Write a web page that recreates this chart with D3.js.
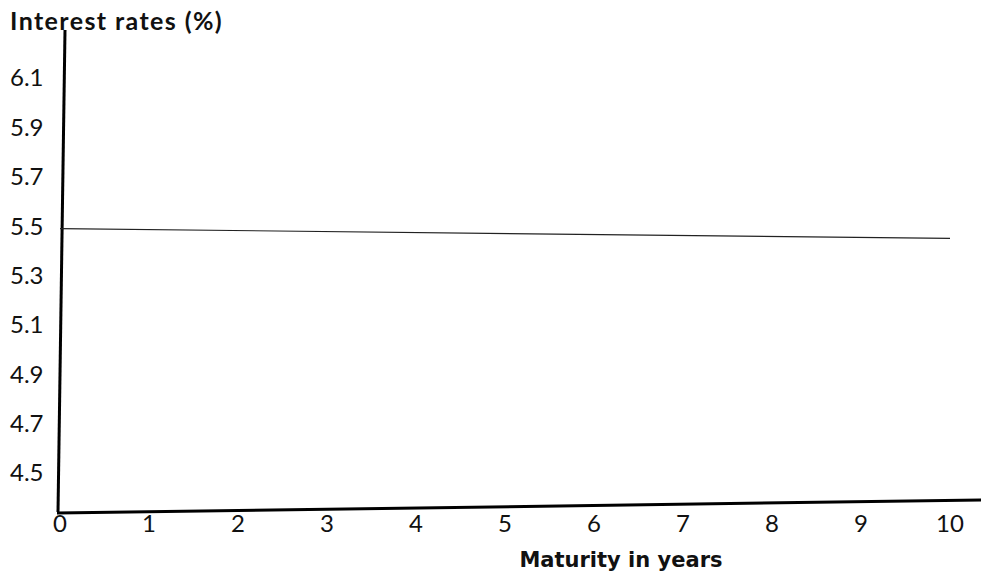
<!DOCTYPE html>
<html>
<head>
<meta charset="utf-8">
<script src="https://cdn.jsdelivr.net/npm/d3@7"></script>
<style>
  html, body { margin: 0; padding: 0; background: #fff; }
  svg { display: block; }
  text { font-family: Lato, "Open Sans", sans-serif; fill: #111; }
</style>
</head>
<body>
<svg id="chart" width="998" height="578"></svg>
<script>
// ---- data ----
const maturities = [0, 10];
const rates = [5.49, 5.45];
const xTicks = [0, 1, 2, 3, 4, 5, 6, 7, 8, 9, 10];
const yTicks = [4.5, 4.7, 4.9, 5.1, 5.3, 5.5, 5.7, 5.9, 6.1];
const yTitle = "Interest rates (%)";
const xTitle = "Maturity in years";

// ---- layout ----
const svg = d3.select("#chart");

const x = d3.scaleLinear().domain([0, 10]).range([60, 950]);
const y = d3.scaleLinear().domain([4.5, 6.1]).range([473, 78]);

// hand-drawn style axis strokes
svg.append("path")
  .attr("d", "M65,30 L58,512")
  .attr("stroke", "#000").attr("stroke-width", 3).attr("fill", "none");
svg.append("path")
  .attr("d", "M57,513 L981,500")
  .attr("stroke", "#000").attr("stroke-width", 3).attr("fill", "none");

// y tick labels
svg.append("g").selectAll("text")
  .data(yTicks).join("text")
  .attr("x", 10)
  .attr("y", d => y(d))
  .attr("dy", "0.35em")
  .attr("font-size", 24)
  .text(d => d3.format(".1f")(d));

// x tick labels
svg.append("g").selectAll("text")
  .data(xTicks).join("text")
  .attr("x", d => x(d))
  .attr("y", 532)
  .attr("text-anchor", "middle")
  .attr("font-size", 24)
  .text(d => d);

// titles
svg.append("text")
  .attr("x", 10).attr("y", 30)
  .attr("font-size", 25).attr("font-weight", "bold")
  .attr("letter-spacing", 1.4)
  .text(yTitle);
svg.append("text")
  .attr("x", 621).attr("y", 567)
  .attr("text-anchor", "middle")
  .style("font-family", "'DejaVu Sans', sans-serif")
  .attr("font-size", 21).attr("font-weight", "bold")
  .text(xTitle);

// the line
const line = d3.line().x(d => x(d[0])).y(d => y(d[1]));
svg.append("path")
  .datum(maturities.map((m, i) => [m, rates[i]]))
  .attr("d", line)
  .attr("stroke", "#222").attr("stroke-width", 1.2).attr("fill", "none");
</script>
</body>
</html>
